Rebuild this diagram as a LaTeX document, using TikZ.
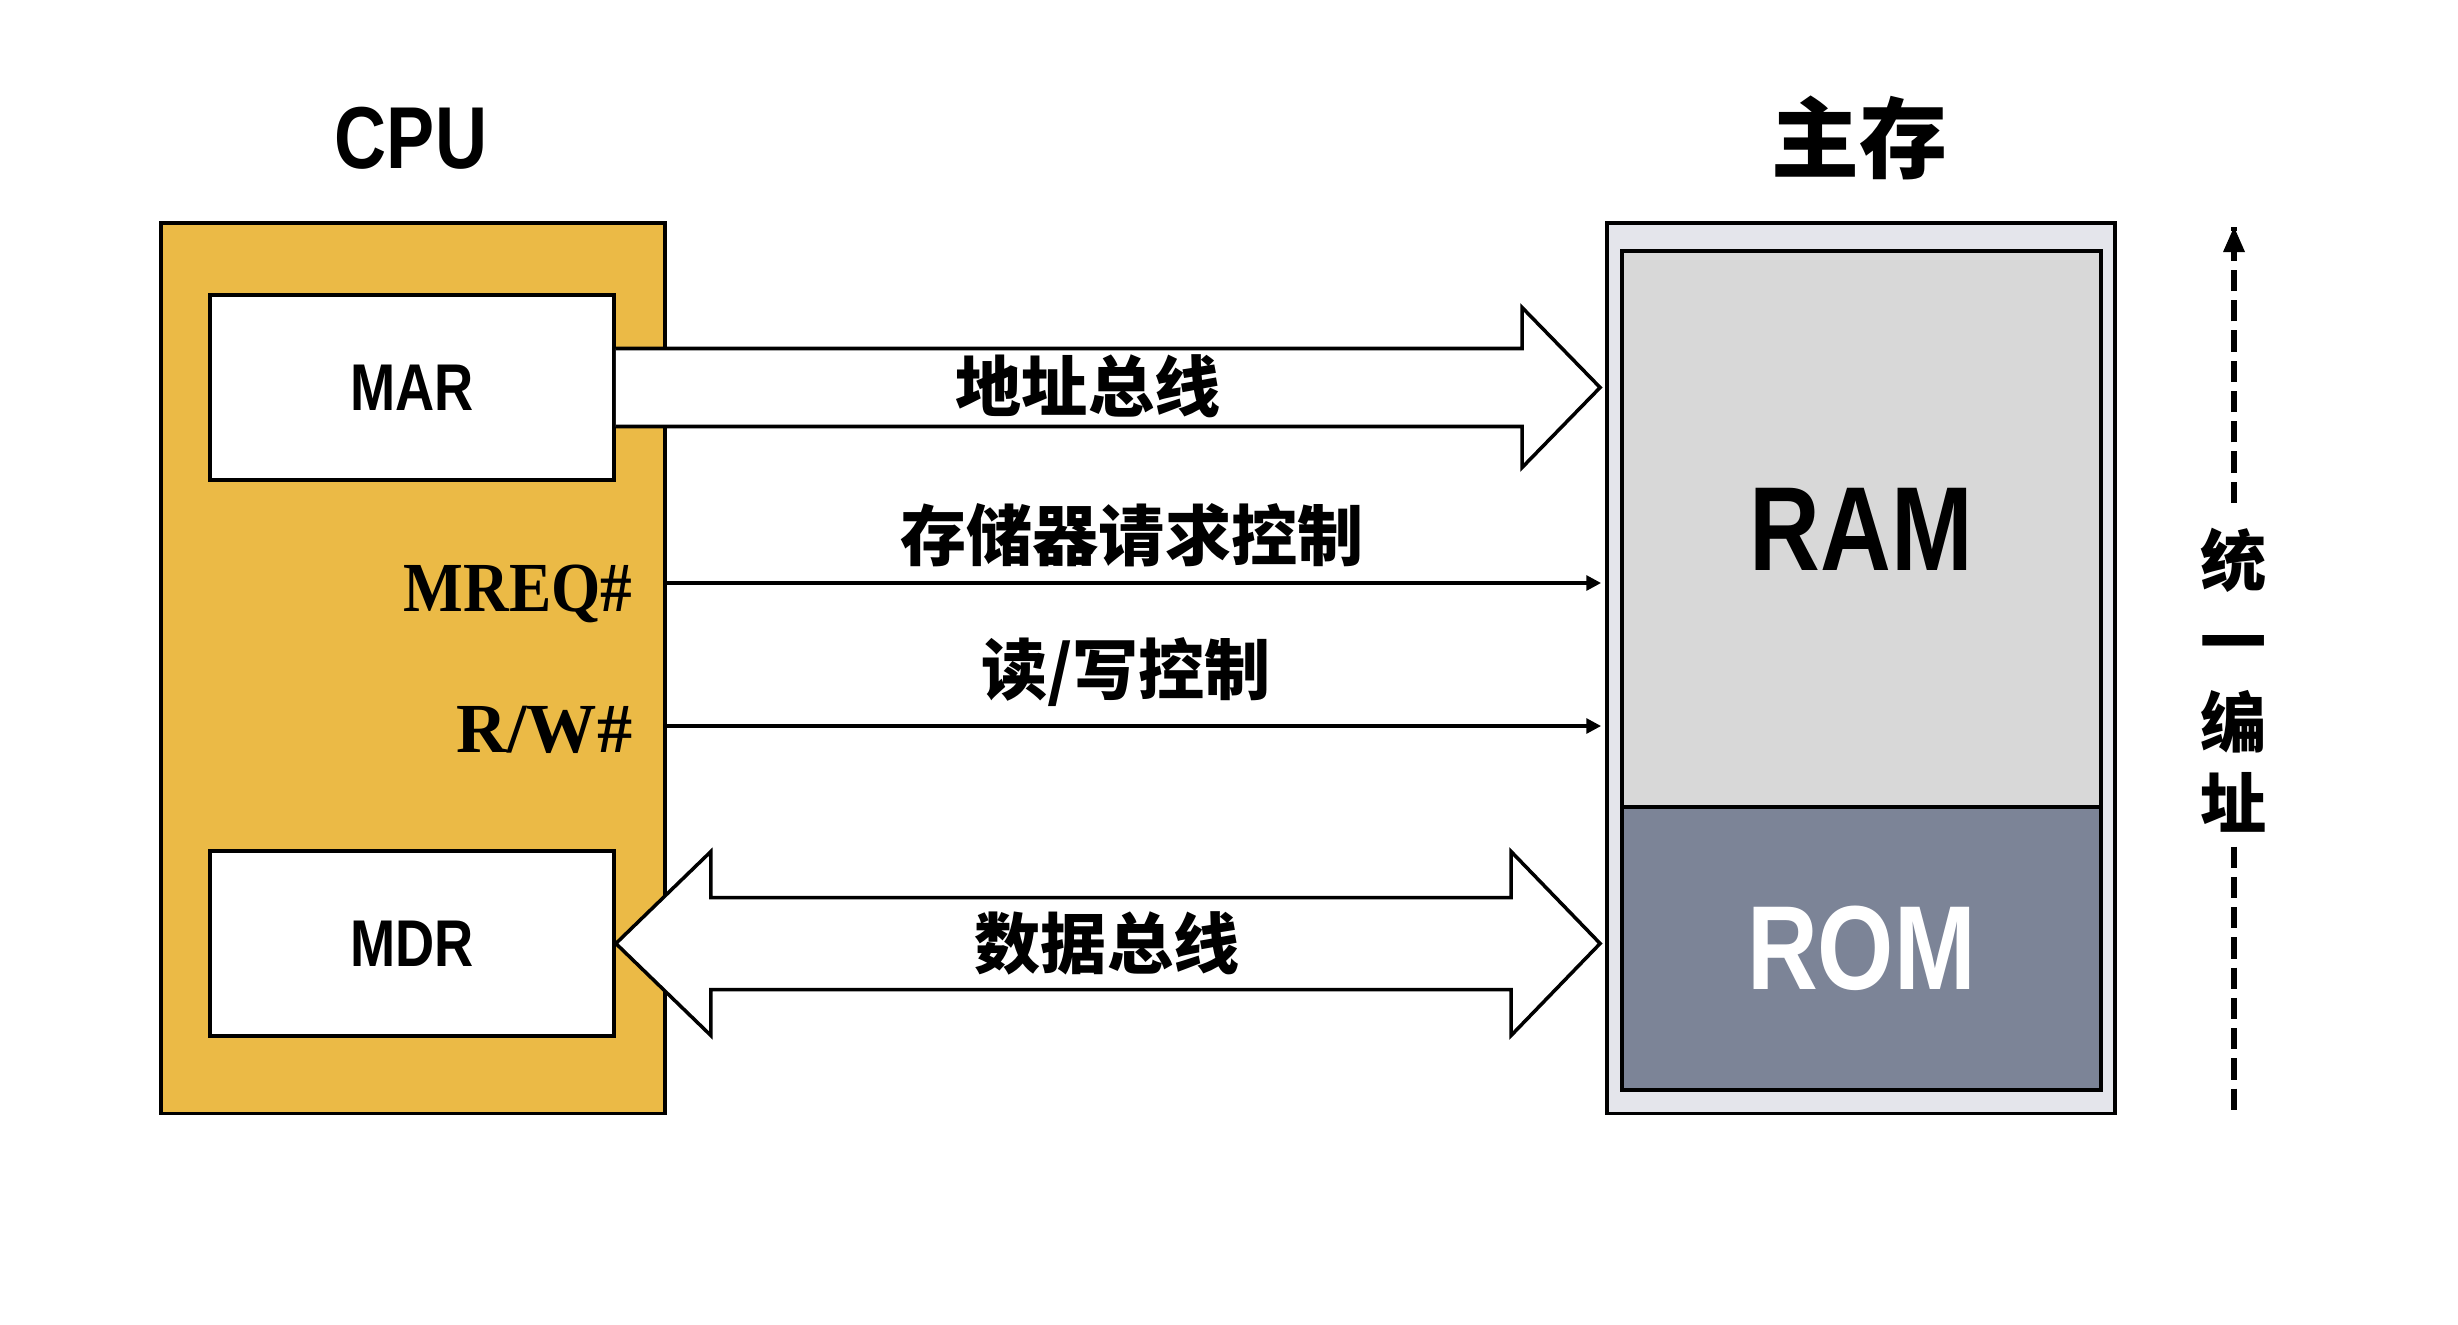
\documentclass[tikz,border=0pt]{standalone}
\usepackage{fontspec}
\usetikzlibrary{arrows.meta,calc}
\newfontfamily\cjk{Noto Sans CJK SC}
\newfontfamily\narrowsans[FakeStretch=0.82]{Liberation Sans}
\newfontfamily\serifbold[FakeStretch=0.9]{Liberation Serif}
\newfontfamily\serifwide{Liberation Serif}
\definecolor{cpuorange}{HTML}{EBBA46}
\definecolor{memouter}{HTML}{E4E5EB}
\definecolor{ramgray}{HTML}{D8D8D8}
\definecolor{romgray}{HTML}{7C8497}
\tikzset{
  box/.style={draw=black, line width=1pt, rectangle, inner sep=0pt},
  reg/.style={box, fill=white, minimum width=4.04cm, minimum height=1.85cm,
    font=\narrowsans\bfseries\fontsize{18.8}{20}\selectfont},
  title/.style={inner sep=0pt},
  cjklabel/.style={inner sep=0pt, font=\cjk\bfseries\fontsize{18.8}{22}\selectfont},
  sig/.style={inner sep=0pt, anchor=base east, font=\serifbold\bfseries\fontsize{20}{22}\selectfont},
  bus/.style={draw=black, line width=1pt, fill=white, line join=miter},
  ctl/.style={draw=black, line width=1pt, -{Triangle[length=4.2pt,width=4.2pt]}},
  dashline/.style={draw=black, line width=1.6pt, dash pattern=on 6pt off 2.6pt}
}
\begin{document}
\begin{tikzpicture}[x=0.01cm,y=-0.01cm]
\useasboundingbox (0,0) rectangle (2458,1324);
\fill[white] (0,0) rectangle (2458,1324);

% titles
\node[title, font=\narrowsans\bfseries\fontsize{25}{28}\selectfont] (cputitle) at (411,138) {CPU};
\node[title, font=\cjk\bfseries\fontsize{25}{28}\selectfont] (memtitle) at (1859,138) {主存};

% CPU
\node[box, fill=cpuorange, minimum width=5.04cm, minimum height=8.90cm] (cpu) at (413,668) {};
\node[reg] (mar) at (412,387.5) {MAR};
\node[reg] (mdr) at (412,943.5) {MDR};
\node[sig] (mreq) at (633,611) {MREQ\#};
\node[sig, font=\serifwide\bfseries\fontsize{20}{22}\selectfont] (rw) at (633,752) {R/W\#};

% memory
\node[box, fill=memouter, minimum width=5.08cm, minimum height=8.90cm] (mem) at (1861,668) {};
\node[box, fill=ramgray, minimum width=4.79cm, minimum height=5.56cm,
  font=\narrowsans\bfseries\fontsize{34}{38}\selectfont] (ram) at (1861.5,529) {RAM};
\node[box, fill=romgray, text=white, minimum width=4.79cm, minimum height=2.83cm,
  font=\narrowsans\bfseries\fontsize{34}{38}\selectfont] (rom) at (1861.5,948.5) {ROM};

% address bus
\draw[bus] ($(mar.east)+(0,-39)$) -- ($(mem.west|-mar.east)+(-83,-39)$) -- ++(0,-41)
  -- ($(mem.west|-mar.east)+(-5,0)$) -- ($(mem.west|-mar.east)+(-83,80)$) -- ++(0,-41)
  -- ($(mar.east)+(0,39)$);
\node[cjklabel] (abl) at (1088,386) {地址总线};

% data bus
\draw[bus] (mdr.east) -- ++(95,-92) -- ++(0,46)
  -- ($(mem.west|-mdr.east)+(-94,-46)$) -- ++(0,-46)
  -- ($(mem.west|-mdr.east)+(-5,0)$) -- ($(mem.west|-mdr.east)+(-94,92)$) -- ++(0,-46)
  -- ($(mdr.east)+(95,46)$) -- ++(0,46) -- cycle;
\node[cjklabel] (dbl) at (1107,943) {数据总线};

% control lines
\coordinate (mreqy) at (0,583);
\coordinate (rwy) at (0,726);
\draw[ctl] (cpu.east|-mreqy) -- ($(mem.west|-mreqy)+(-4,0)$);
\draw[ctl] (cpu.east|-rwy) -- ($(mem.west|-rwy)+(-4,0)$);
\node[cjklabel] (mreql) at (1132,535) {存储器请求控制};
\node[cjklabel] (rwl) at (1126,672) {读/写控制};

% unified addressing
\node[inner sep=0pt, align=center, font=\cjk\bfseries\fontsize{18.8}{23}\selectfont] (uni) at (2234,680) {统\\一\\编\\址};
\coordinate (utop) at (2234,227);
\coordinate (ubot) at (2234,1113);
\draw[dashline] ([yshift=-4pt]uni.south) -- (ubot);
\draw[dashline] ([yshift=7pt]uni.north) -- (utop);
\fill[black] (utop) -- ++(-11,25) -- ++(22,0) -- cycle;
\end{tikzpicture}
\end{document}
